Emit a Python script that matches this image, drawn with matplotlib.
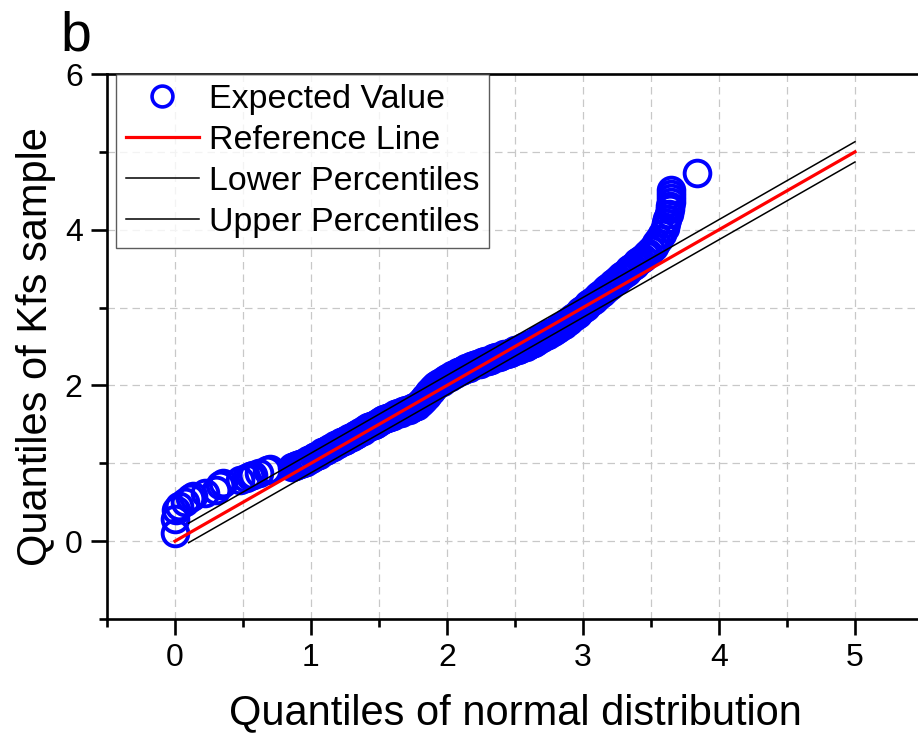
import matplotlib.pyplot as plt
from matplotlib.lines import Line2D
from matplotlib.ticker import MultipleLocator

plt.rcParams['font.family'] = ['Liberation Sans', 'DejaVu Sans']

# sparse points in the lower tail
tail_x = [0.00, 0.00, 0.01, 0.03, 0.07, 0.11, 0.13, 0.22, 0.30, 0.33, 0.35,
          0.48, 0.52, 0.55, 0.57, 0.62, 0.68, 0.70]
tail_y = [0.10, 0.28, 0.40, 0.45, 0.50, 0.55, 0.58, 0.62, 0.66, 0.72, 0.75,
          0.79, 0.81, 0.84, 0.85, 0.87, 0.92, 0.93]

# main body of the sample quantiles
band_x = [0.86, 0.88, 0.90, 0.92, 0.94, 0.96, 0.98, 1.00, 1.02, 1.04, 1.06, 1.08,
          1.10, 1.12, 1.14, 1.16, 1.18, 1.20, 1.22, 1.24, 1.26, 1.28, 1.30, 1.32,
          1.34, 1.36, 1.38, 1.40, 1.42, 1.44, 1.46, 1.48, 1.50, 1.52, 1.54, 1.56,
          1.58, 1.60, 1.62, 1.64, 1.66, 1.68, 1.70, 1.72, 1.74, 1.76, 1.78, 1.80,
          1.81, 1.82, 1.83, 1.84, 1.85, 1.86, 1.87, 1.88, 1.89, 1.90, 1.91, 1.92,
          1.94, 1.96, 1.98, 2.00, 2.02, 2.04, 2.06, 2.08, 2.10, 2.12, 2.14, 2.16,
          2.18, 2.20, 2.22, 2.24, 2.26, 2.28, 2.30, 2.32, 2.34, 2.36, 2.38, 2.40,
          2.42, 2.44, 2.46, 2.48, 2.50, 2.52, 2.54, 2.56, 2.58, 2.60, 2.62, 2.64,
          2.66, 2.68, 2.70, 2.72, 2.74, 2.76, 2.78, 2.80, 2.82, 2.84, 2.86, 2.88,
          2.90, 2.92, 2.94, 2.96, 2.98, 3.00, 3.02, 3.04, 3.06, 3.08, 3.10, 3.12,
          3.14, 3.16, 3.18, 3.20, 3.22, 3.24, 3.26, 3.28, 3.30, 3.32, 3.34, 3.36,
          3.38, 3.40, 3.42, 3.44, 3.46, 3.48, 3.50, 3.52, 3.54, 3.56, 3.58, 3.60,
          3.61, 3.62, 3.63, 3.64, 3.64, 3.65, 3.65, 3.65, 3.65]
band_y = [0.95, 0.96, 0.98, 0.99, 1.01, 1.02, 1.04, 1.06, 1.08, 1.10, 1.11, 1.14,
          1.16, 1.17, 1.19, 1.21, 1.23, 1.25, 1.27, 1.28, 1.30, 1.32, 1.34, 1.36,
          1.38, 1.40, 1.42, 1.44, 1.46, 1.48, 1.49, 1.51, 1.53, 1.55, 1.57, 1.58,
          1.60, 1.61, 1.63, 1.64, 1.65, 1.67, 1.68, 1.69, 1.71, 1.72, 1.74, 1.77,
          1.79, 1.81, 1.83, 1.85, 1.87, 1.89, 1.91, 1.93, 1.95, 1.97, 1.99, 2.00,
          2.03, 2.05, 2.07, 2.09, 2.11, 2.13, 2.15, 2.17, 2.19, 2.20, 2.22, 2.23,
          2.25, 2.26, 2.27, 2.28, 2.30, 2.31, 2.32, 2.33, 2.35, 2.36, 2.37, 2.38,
          2.40, 2.41, 2.42, 2.43, 2.45, 2.46, 2.47, 2.49, 2.50, 2.52, 2.53, 2.55,
          2.57, 2.59, 2.61, 2.63, 2.65, 2.67, 2.69, 2.71, 2.74, 2.76, 2.78, 2.81,
          2.83, 2.86, 2.89, 2.92, 2.95, 2.98, 3.01, 3.04, 3.07, 3.10, 3.13, 3.16,
          3.19, 3.22, 3.25, 3.28, 3.31, 3.34, 3.37, 3.40, 3.43, 3.46, 3.49, 3.52,
          3.55, 3.58, 3.61, 3.64, 3.67, 3.70, 3.74, 3.78, 3.83, 3.88, 3.95, 4.02,
          4.08, 4.14, 4.20, 4.26, 4.31, 4.36, 4.41, 4.46, 4.51]

# largest observation
top_x = [3.84]
top_y = [4.73]

ref_x = [0.0, 5.0]
ref_y = [0.0, 5.0]
lower_x = [0.1, 5.0]
lower_y = [-0.02, 4.87]
upper_x = [0.1, 5.0]
upper_y = [0.23, 5.13]

MS = 18.5
MEW = 2.8

fig = plt.figure(figsize=(9.18, 7.44), dpi=100)
ax = fig.add_axes([107 / 918, 125 / 744, 816 / 918, 545 / 744])

pts_x = tail_x + band_x + top_x
pts_y = tail_y + band_y + top_y
ax.plot(pts_x, pts_y, 'o', ls='none', mfc='none', mec='#0000ff', ms=MS, mew=MEW,
        zorder=3)
ax.plot(ref_x, ref_y, color='#ff0000', lw=2.3, zorder=5)
ax.plot(lower_x, lower_y, color='black', lw=1.1, zorder=4)
ax.plot(upper_x, upper_y, color='black', lw=1.1, zorder=4)

ax.set_xlim(-0.5, 5.5)
ax.set_ylim(-1, 6)
ax.xaxis.set_major_locator(MultipleLocator(1))
ax.xaxis.set_minor_locator(MultipleLocator(0.5))
ax.yaxis.set_major_locator(MultipleLocator(2))
ax.yaxis.set_minor_locator(MultipleLocator(1))

ax.grid(True, which='both', color='#c8c8c8', ls=(0, (6, 4)), lw=0.9, zorder=0)
ax.tick_params(which='major', length=11.5, width=1.9, labelsize=23, pad=6)
ax.tick_params(which='minor', length=6, width=1.9)
ax.tick_params(top=False, right=False)
for side in ['left', 'bottom', 'top']:
    ax.spines[side].set_linewidth(1.9)
ax.spines['right'].set_visible(False)

ax.set_xlabel('Quantiles of normal distribution', fontsize=30, labelpad=14)
ax.set_ylabel('Quantiles of Kfs sample', fontsize=30, labelpad=6)

handles = [
    Line2D([], [], ls='none', marker='o', mfc='none', mec='#0000ff', ms=15, mew=2.6),
    Line2D([], [], color='#ff0000', lw=2.3),
    Line2D([], [], color='black', lw=1.1),
    Line2D([], [], color='black', lw=1.1),
]
labels = ['Expected Value', 'Reference Line', 'Lower Percentiles', 'Upper Percentiles']
leg = ax.legend(handles, labels, loc='upper left', bbox_to_anchor=(0.011, 1.0),
                fontsize=24.5, frameon=True, fancybox=False, shadow=False,
                borderaxespad=0, handlelength=2.15, handletextpad=0.3,
                labelspacing=0.3, borderpad=0.28)
leg.get_frame().set_edgecolor('#333333')
leg.get_frame().set_linewidth(1.0)

fig.text(0.066, 0.932, 'b', fontsize=40, ha='left', va='baseline')

fig.savefig('out.png', dpi=100)
